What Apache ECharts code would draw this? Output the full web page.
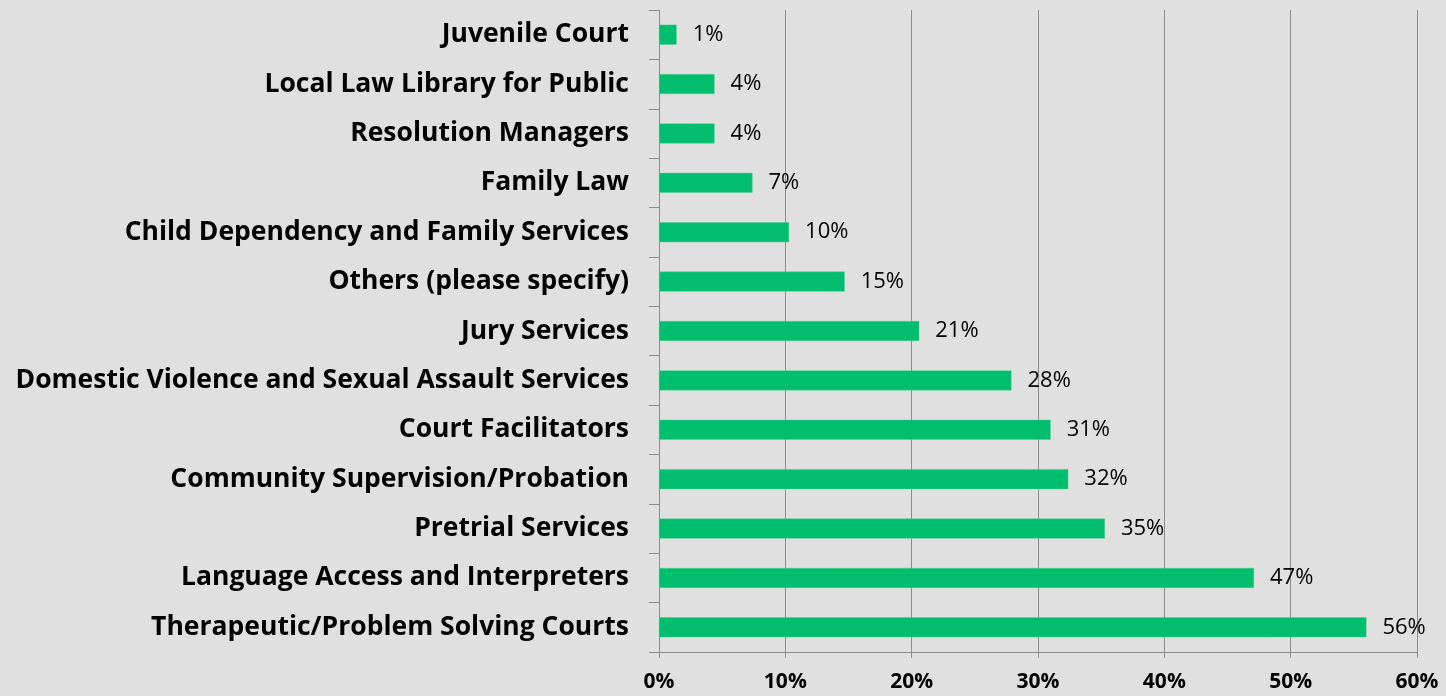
<!DOCTYPE html>
<html>
<head>
<meta charset="utf-8">
<script src="https://cdn.jsdelivr.net/npm/echarts@6/dist/echarts.min.js"></script>
<style>
html, body { margin: 0; padding: 0; background: #e0e0e0; }
#chart { width: 1446px; height: 696px; }
</style>
</head>
<body>
<div id="chart"></div>
<script>
// categories from top to bottom
var categories = [
	'Juvenile Court',
	'Local Law Library for Public',
	'Resolution Managers',
	'Family Law',
	'Child Dependency and Family Services',
	'Others (please specify)',
	'Jury Services',
	'Domestic Violence and Sexual Assault Services',
	'Court Facilitators',
	'Community Supervision/Probation',
	'Pretrial Services',
	'Language Access and Interpreters',
	'Therapeutic/Problem Solving Courts'
];
var percents = [1.4, 4.4, 4.4, 7.4, 10.3, 14.7, 20.6, 27.9, 31.0, 32.4, 35.3, 47.1, 56.0];
var xTicks = [0, 10, 20, 30, 40, 50, 60];

var myChart = echarts.init(document.getElementById('chart'));
var option = {
	backgroundColor: '#e0e0e0',
	animation: false,
	grid: {
		left: 659,
		right: 29,
		top: 10,
		bottom: 44
	},
	xAxis: {
		type: 'value',
		min: xTicks[0],
		max: xTicks[xTicks.length - 1],
		interval: 10,
		axisLine: { show: true, lineStyle: { color: '#8c8c8c', width: 1 } },
		axisTick: { show: true, length: 6, lineStyle: { color: '#8c8c8c' } },
		splitLine: { show: true, lineStyle: { color: '#8c8c8c', width: 1 } },
		axisLabel: {
			formatter: '{value}%',
			color: '#000',
			fontWeight: 'bold',
			fontSize: 21,
			fontFamily: 'Open Sans',
			margin: 20
		}
	},
	yAxis: {
		type: 'category',
		data: categories,
		inverse: true,
		axisLine: { show: true, lineStyle: { color: '#8c8c8c', width: 1 } },
		axisTick: { show: true, length: 10, lineStyle: { color: '#8c8c8c' } },
		axisLabel: {
			color: '#000',
			fontWeight: 'bold',
			fontSize: 26.5,
			fontFamily: 'Open Sans',
			margin: 30
		}
	},
	series: [{
		type: 'bar',
		data: percents,
		barWidth: 20,
		itemStyle: { color: '#00be6e', borderColor: '#4fd191', borderWidth: 0.5 },
		label: {
			show: true,
			position: 'right',
			distance: 16,
			color: '#000',
			fontSize: 22,
			fontFamily: 'Open Sans',
			formatter: function (p) { return Math.round(p.value) + '%'; }
		}
	}]
};
myChart.setOption(option);
</script>
</body>
</html>
